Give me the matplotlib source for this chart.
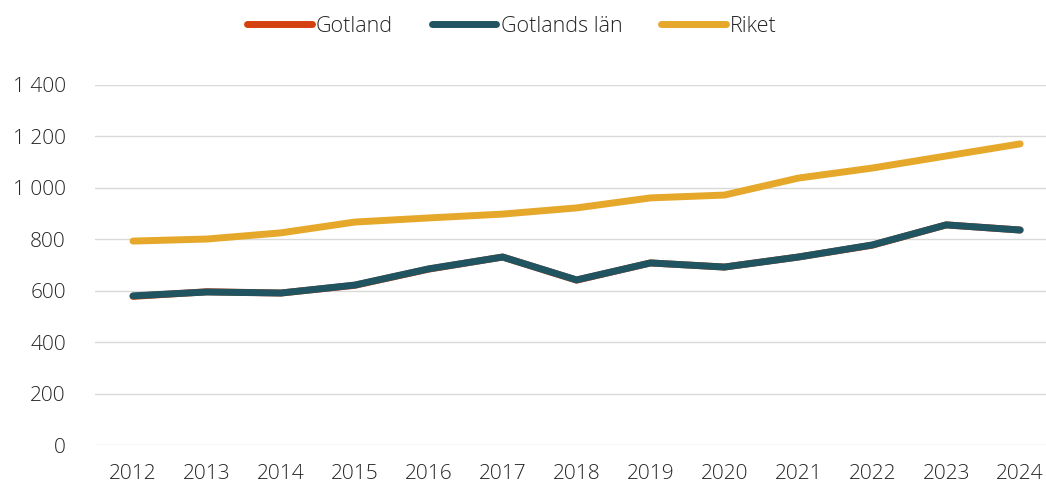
import matplotlib
matplotlib.use("Agg")
import matplotlib.pyplot as plt
from matplotlib.ticker import FuncFormatter

# data
years = [2012, 2013, 2014, 2015, 2016, 2017, 2018, 2019, 2020, 2021, 2022, 2023, 2024]
gotland = [578, 596, 591, 621, 684, 731, 641, 708, 692, 731, 777, 856, 836]
gotlands_lan = [580, 595, 591, 622, 685, 731, 642, 708, 692, 731, 778, 856, 836]
riket = [793, 801, 825, 867, 883, 898, 922, 961, 972, 1038, 1077, 1124, 1171]

plt.rcParams['font.family'] = ['Open Sans', 'DejaVu Sans']
plt.rcParams['font.weight'] = 'light'
txt = '#262626'

fig = plt.figure(figsize=(10.46, 4.86), dpi=100)
ax = fig.add_axes([95/1046, 1 - 445/486, 1 - 95/1046, (445 - 85)/486])

ax.plot(years, gotland, color='#d4400f', lw=5, solid_capstyle='round', label='Gotland')
ax.plot(years, gotlands_lan, color='#1f5460', lw=5, solid_capstyle='round', label='Gotlands län')
ax.plot(years, riket, color='#e5a82a', lw=5, solid_capstyle='round', label='Riket')

ax.set_ylim(0, 1400)
ax.set_yticks(range(0, 1401, 200))
ax.yaxis.set_major_formatter(FuncFormatter(lambda v, p: f'{int(v):,}'.replace(',', ' ')))
ax.set_xlim(2011.486, 2024.35)
ax.set_xticks(years)
ax.grid(axis='y', color='#d9d9d9', lw=1)
ax.set_axisbelow(True)
for s in ax.spines.values():
    s.set_visible(False)
ax.tick_params(length=0, labelsize=15, colors=txt)
ax.tick_params(axis='y', pad=21)
ax.tick_params(axis='x', pad=14)

ax.legend(loc='center', bbox_to_anchor=(512/1046, 1 - 26/486), bbox_transform=fig.transFigure,
          ncol=3, frameon=False, fontsize=15.5, handlelength=3.0, handletextpad=0.2,
          columnspacing=1.8, labelcolor=txt)

fig.savefig('out.png', dpi=100)
